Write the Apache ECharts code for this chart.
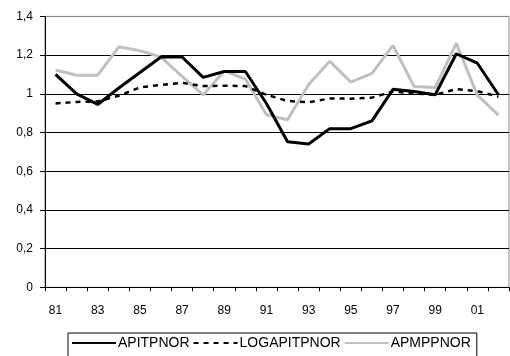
<!DOCTYPE html>
<html>
<head>
<meta charset="utf-8">
<script src="https://cdn.jsdelivr.net/npm/echarts@6/dist/echarts.min.js"></script>
<style>html,body{margin:0;padding:0;background:#fff}#c{width:510px;height:356px}</style>
</head>
<body>
<div id="c"></div>
<script>
const categories = ['81','82','83','84','85','86','87','88','89','90','91','92','93','94','95','96','97','98','99','00','01','02'];
const apitpnor = [1.10,1.00,0.945,1.03,1.11,1.19,1.19,1.085,1.115,1.115,0.95,0.752,0.741,0.82,0.82,0.86,1.023,1.012,0.995,1.207,1.158,0.995];
const logapitpnor = [0.95,0.958,0.96,0.99,1.033,1.046,1.057,1.04,1.042,1.04,0.995,0.963,0.956,0.976,0.975,0.98,1.012,1.002,0.995,1.024,1.014,0.985];
const apmppnor = [1.123,1.096,1.096,1.243,1.223,1.19,1.09,0.994,1.118,1.076,0.892,0.866,1.048,1.168,1.06,1.106,1.25,1.038,1.032,1.261,0.993,0.89];
const seriesNames = ['APITPNOR','LOGAPITPNOR','APMPPNOR'];

const font = 'Liberation Sans, Arial, sans-serif';
const chart = echarts.init(document.getElementById('c'), null, {renderer:'canvas'});
chart.setOption({
  animation: false,
  backgroundColor: '#fff',
  grid: {left:45, right:1, top:16.4, bottom:68.7, show:true, borderColor:'#888', borderWidth:1},
  legend: {
    data: [
      {name: seriesNames[0]},
      {name: seriesNames[1], textStyle: {padding:[0,20,0,-3]}},
      {name: seriesNames[2]}
    ],
    left: 68, top: 333,
    itemWidth: 44, itemHeight: 14, itemGap: 3,
    padding: [3, 6, 10, 3],
    borderColor: '#000', borderWidth: 1,
    itemStyle: {opacity: 0},
    textStyle: {fontFamily: font, fontSize: 14, color: '#000', padding:[0,0,0,-3]}
  },
  xAxis: {
    type: 'category', data: categories, boundaryGap: true,
    axisLine: {lineStyle:{color:'#000', width:1}},
    axisTick: {show:true, length:4, interval:0, lineStyle:{color:'#000'}},
    axisLabel: {interval:1, margin:17, fontFamily:font, fontSize:12, color:'#000'},
    splitLine: {show:false}
  },
  yAxis: {
    type: 'value', min: 0, max: 1.4, interval: 0.2,
    axisLine: {show:true, lineStyle:{color:'#000', width:1}},
    axisTick: {show:true, length:5, lineStyle:{color:'#000'}},
    axisLabel: {margin:12, fontFamily:font, fontSize:12, color:'#000',
      formatter: v => (Math.round(v*10)/10).toString().replace('.', ',')},
    splitLine: {show:true, lineStyle:{color:['#000','#000','#000','#000','#000','#000','#000','#888'], width:1}}
  },
  series: [
    {name:seriesNames[0], type:'line', data:apitpnor, symbol:'none',
      lineStyle:{color:'#000', width:3}, itemStyle:{color:'#000'}, z:4},
    {name:seriesNames[1], type:'line', data:logapitpnor, symbol:'none',
      lineStyle:{color:'#000', width:2.5, type:[5,5]}, itemStyle:{color:'#000'}, z:3},
    {name:seriesNames[2], type:'line', data:apmppnor, symbol:'none',
      lineStyle:{color:'#c0c0c0', width:3}, itemStyle:{color:'#c0c0c0'}, z:2}
  ]
});
</script>
</body>
</html>
